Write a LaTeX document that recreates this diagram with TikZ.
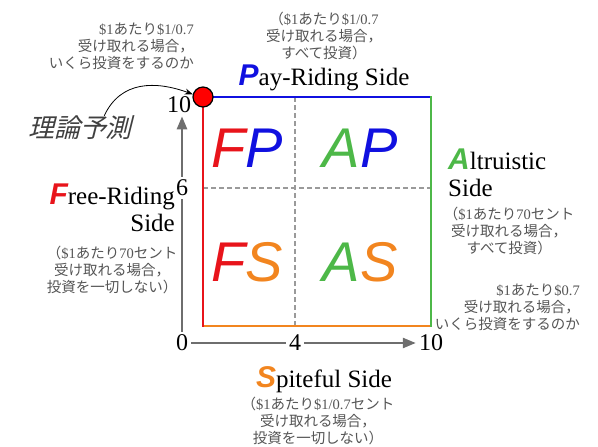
\documentclass[tikz,border=0pt]{standalone}
\usepackage{fontspec}
\setmainfont{Liberation Serif}
\newfontfamily\jpfont{Noto Sans CJK JP}
\newfontfamily\jpslant[FakeSlant=0.25]{Noto Sans CJK JP}
\newfontfamily\arialfont{Liberation Sans}
\usepackage{tikz}
\usetikzlibrary{arrows.meta, positioning}
\definecolor{fpred}{HTML}{E8141B}
\definecolor{fpblue}{HTML}{1010E0}
\definecolor{apgreen}{HTML}{4DB848}
\definecolor{sorange}{HTML}{F2851F}
\definecolor{notegray}{HTML}{555555}
\definecolor{axisgray}{HTML}{6E6E6E}
\definecolor{gridgray}{HTML}{9A9A9A}
\newcommand{\ja}[1]{{\jpfont #1}}
\newcommand{\bigini}[2]{{\color{#1}\arialfont\bfseries\itshape\fontsize{30}{30}\selectfont #2}}

\begin{document}
\begin{tikzpicture}[
  x=1pt, y=-1pt,
  >={Stealth[length=8pt,width=6pt]},
  every node/.style={inner sep=0pt},
  note/.style={text=notegray, align=center, font=\fontsize{14.5}{17}\selectfont},
  side/.style={font=\fontsize{25}{27}\selectfont},
  num/.style={font=\fontsize{24}{24}\selectfont, inner sep=3pt},
  quadlabel/.style={font=\arialfont\itshape\fontsize{56}{56}\selectfont},
  edge/.style={line width=2.2pt, line cap=rect},
  grid/.style={gridgray, line width=2pt, dash pattern=on 5pt off 3pt},
  axisline/.style={axisgray, line width=2.5pt},
  axisarrow/.style={axisgray, line width=2.5pt, -{Triangle[length=13pt,width=10pt]}}
]
\useasboundingbox (0,0) rectangle (598,447);

% square
\coordinate (sw) at (203,326);
\coordinate (nw) at (203,97);
\coordinate (ne) at (431,97);
\coordinate (se) at (431,326);
\coordinate (mn) at (295,97);
\coordinate (ms) at (295,326);
\coordinate (wm) at (203,188);
\coordinate (em) at (431,188);

\draw[grid] (mn) -- (ms);
\draw[grid] (wm) -- (em);
\draw[edge, sorange] (se) -- (sw);
\draw[edge, fpred] (sw) -- (nw);
\draw[edge, fpblue] (nw) -- (ne);
\draw[edge, apgreen] (ne) -- (se);

\node[quadlabel] (fp) at (247,148) {\color{fpred}F\color{fpblue}P};
\node[quadlabel] (ap) at (360,148) {\color{apgreen}A\color{fpblue}P};
\node[quadlabel] (fs) at (247,262) {\color{fpred}F\color{sorange}S};
\node[quadlabel] (as) at (360,262) {\color{apgreen}A\color{sorange}S};

% axes
\node[num] (y10) at (179,105) {10};
\node[num] (y6) at (182,188) {6};
\node[num] (o) at (182,343) {0};
\node[num] (x4) at (295,343) {4};
\node[num] (x10) at (431,343) {10};

\draw[axisline] (o) -- (y6);
\draw[axisarrow] (y6) -- (o.north |- y10.south);
\draw[axisline] (o) -- (x4);
\draw[axisarrow] (x4) -- (x10);

\node[circle, fill=red, draw=black, line width=1.2pt, minimum size=20pt] (dot) at (nw) {};

% theory
\node[font=\jpslant\fontsize{26}{26}\selectfont, text=black!75] (theory) at (80,128) {理論予測};
\draw[->, line width=0.8pt] ([xshift=-28pt]theory.north east) to[out=65, in=160, looseness=1.1] (dot.165);

\node[note, align=right, anchor=east] (n1) at (194,46) {\$1\ja{あたり}\$1/0.7\\\ja{受け取れる場合，}\\\ja{いくら投資をするのか}};

% sides
\node[side] (pay) at (324,78) {\bigini{fpblue}{P}ay-Riding Side};
\node[note, above=5pt of pay] (n2) {\ja{（}\$1\ja{あたり}\$1/0.7\\\ja{受け取れる場合，}\\\ja{すべて投資）}};

\node[side, align=left, anchor=west] (alt) at (448,173) {\bigini{apgreen}{A}ltruistic\\Side};
\node[note, below=10pt of alt, xshift=12pt] (n3) {\ja{（}\$1\ja{あたり}70\ja{セント}\\\ja{受け取れる場合，}\\\ja{すべて投資）}};

\node[note, align=right, anchor=east] (n6) at (580,307) {\$1\ja{あたり}\$0.7\\\ja{受け取れる場合，}\\\ja{いくら投資をするのか}};

\node[side, align=right, anchor=east] (free) at (175,208) {\bigini{fpred}{F}ree-Riding\\Side};
\node[note, below=14pt of free] (n4) {\ja{（}\$1\ja{あたり}70\ja{セント}\\\ja{受け取れる場合，}\\\ja{投資を一切しない）}};

\node[side] (spite) at (324,380) {\bigini{sorange}{S}piteful Side};
\node[note, below=4pt of spite, xshift=-6pt] (n5) {\ja{（}\$1\ja{あたり}\$1/0.7\ja{セント}\\\ja{受け取れる場合，}\\\ja{投資を一切しない）}};
\end{tikzpicture}
\end{document}
